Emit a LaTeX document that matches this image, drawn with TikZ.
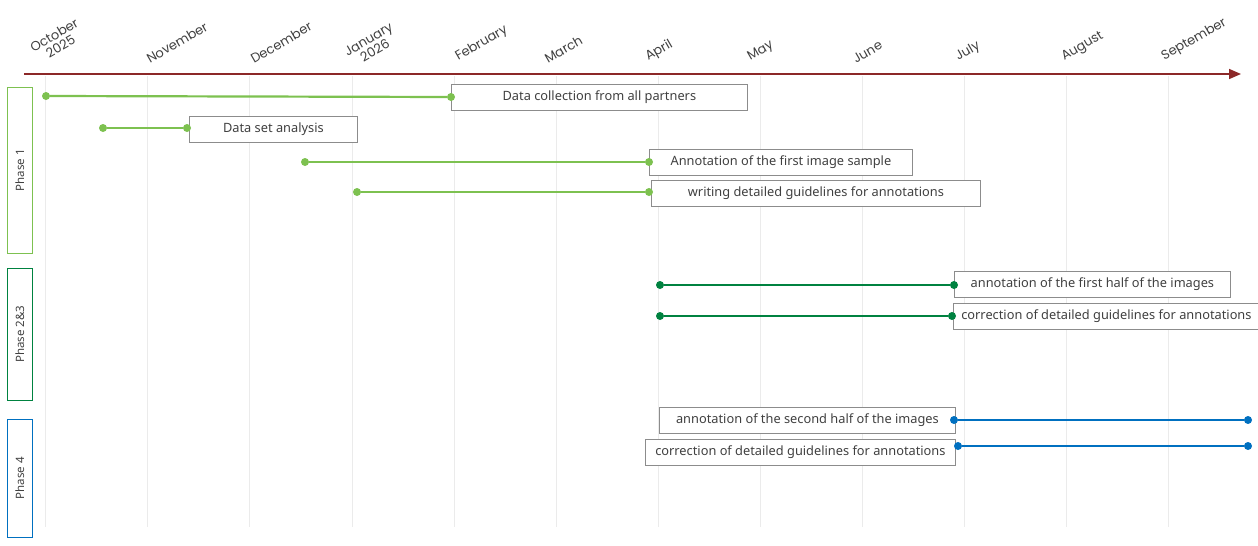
\documentclass[tikz,border=0pt]{standalone}
\usepackage{fontspec}
\setmainfont{Noto Sans}
\newfontfamily\monthfont{Poppins}
\usetikzlibrary{arrows.meta}
\definecolor{lg}{RGB}{125,193,80}
\definecolor{dg}{RGB}{0,130,64}
\definecolor{bl}{RGB}{0,112,192}
\definecolor{ax}{RGB}{140,40,40}
\definecolor{txt}{RGB}{64,64,64}
\tikzset{
 grid/.style={draw=black!8,line width=0.8pt},
 month/.style={font=\monthfont\fontsize{13}{14}\selectfont,text=txt,rotate=30,anchor=south west,align=center,inner sep=0pt},
 box/.style={draw=black!45,fill=white,line width=0.8pt,minimum height=26pt,anchor=west,font=\fontsize{12.8}{13}\selectfont,text=txt,inner sep=0pt},
 dot/.style={circle,fill=#1,inner sep=0pt,minimum size=8pt},
 bar/.style={draw=#1,line width=2.2pt},
 phase/.style={draw=#1,line width=0.8pt,minimum width=25pt,anchor=north west,inner sep=0pt},
 plabel/.style={rotate=90,font=\fontsize{11.5}{12}\selectfont,text=txt},
}
\begin{document}
\begin{tikzpicture}[x=1pt,y=-1pt]
\useasboundingbox (0,0) rectangle (1258,546);
\foreach \x in {45,147,249,352,454,556,658,760,862,964,1066,1168}{\draw[grid] (\x,76) -- (\x,527);}
\coordinate (a0) at (24,74); \coordinate (a1) at (1241,74);
\draw[ax,line width=1.6pt,-{Triangle[length=12pt,width=10pt]}] (a0) -- (a1);
\node[month] (m1) at (40,64) {October\\[-1pt]2025};
\node[month] (m2) at (150,64) {November};
\node[month] (m3) at (254,64) {December};
\node[month] (m4) at (354,68) {January\\[-1pt]2026};
\node[month] (m5) at (460,64) {February};
\node[month] (m6) at (548,64) {March};
\node[month] (m7) at (650,64) {April};
\node[month] (m8) at (752,64) {May};
\node[month] (m9) at (856,64) {June};
\node[month] (m10) at (960,64) {July};
\node[month] (m11) at (1066,64) {August};
\node[month] (m12) at (1166,64) {September};
% phases
\node[phase=lg,minimum height=166pt] (p1) at (7,87) {};
\node[plabel] at (p1.center) {Phase 1};
\node[phase=dg,minimum height=132pt] (p2) at (7,268) {};
\node[plabel] at (p2.center) {Phase 2\&3};
\node[phase=bl,minimum height=118pt] (p3) at (7,419) {};
\node[plabel] at (p3.center) {Phase 4};
% tasks
\node[box,minimum width=296pt] (t1) at (451,97) {Data collection from all partners};
\node[dot=lg] (s1) at (46,96) {}; \node[dot=lg] (e1) at (451,97) {};
\draw[bar=lg] (s1) -- (e1);
\node[box,minimum width=168pt] (t2) at (189,129) {Data set analysis};
\node[dot=lg] (s2) at (103,128) {}; \node[dot=lg] (e2) at (187,128) {};
\draw[bar=lg] (s2) -- (e2);
\node[box,minimum width=263pt] (t3) at (649,162) {Annotation of the first image sample};
\node[dot=lg] (s3) at (305,162) {}; \node[dot=lg] (e3) at (649,162) {};
\draw[bar=lg] (s3) -- (e3);
\node[box,minimum width=329pt] (t4) at (651,193) {writing detailed guidelines for annotations};
\node[dot=lg] (s4) at (357,192) {}; \node[dot=lg] (e4) at (649,192) {};
\draw[bar=lg] (s4) -- (e4);
\node[box,minimum width=276pt] (t5) at (954,284) {annotation of the first half of the images};
\node[dot=dg] (s5) at (660,285) {}; \node[dot=dg] (e5) at (954,285) {};
\draw[bar=dg] (s5) -- (e5);
\node[box,minimum width=306pt] (t6) at (953,316) {correction of detailed guidelines for annotations};
\node[dot=dg] (s6) at (660,316) {}; \node[dot=dg] (e6) at (952,316) {};
\draw[bar=dg] (s6) -- (e6);
\node[box,minimum width=296pt] (t7) at (659,420) {annotation of the second half of the images};
\node[dot=bl] (s7) at (954,420) {}; \node[dot=bl] (e7) at (1248,420) {};
\draw[bar=bl] (s7) -- (e7);
\node[box,minimum width=310pt] (t8) at (645,452) {correction of detailed guidelines for annotations};
\node[dot=bl] (s8) at (958,446) {}; \node[dot=bl] (e8) at (1248,446) {};
\draw[bar=bl] (s8) -- (e8);
\end{tikzpicture}
\end{document}
